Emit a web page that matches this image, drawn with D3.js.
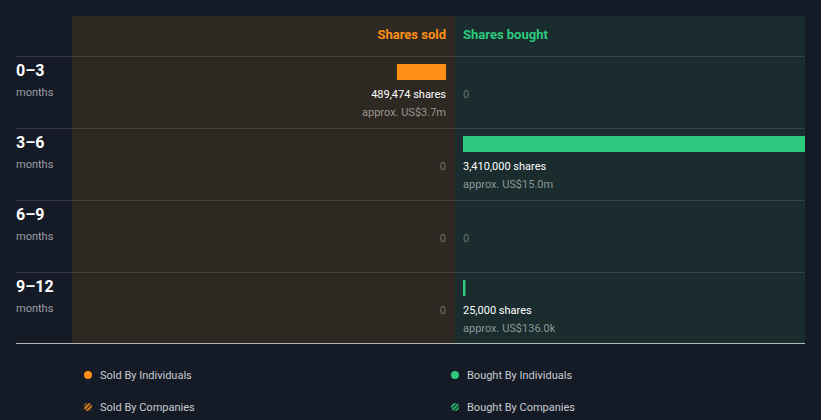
<!DOCTYPE html>
<html><head><meta charset="utf-8">
<script src="https://cdn.jsdelivr.net/npm/d3@7"></script>
<style>
html,body{margin:0;padding:0;background:#151b26;}
svg{display:block;font-family:Roboto,"Noto Sans",sans-serif;}
</style></head>
<body><svg id="c" width="821" height="420"></svg>
<script>
const periods = ["0–3", "3–6", "6–9", "9–12"];
const soldShares = [489474, 0, 0, 0];
const soldValues = ["US$3.7m", null, null, null];
const boughtShares = [0, 3410000, 0, 25000];
const boughtValues = [null, "US$15.0m", null, "US$136.0k"];
const legendItems = ["Sold By Individuals", "Bought By Individuals", "Sold By Companies", "Bought By Companies"];

(function(){
const ORANGE = "#ff9015", GREEN = "#2dc97e";
const svg = d3.select("#c");
const defs = svg.append("defs");
function hatch(id, col){
  const p = defs.append("pattern").attr("id", id).attr("patternUnits","userSpaceOnUse")
    .attr("width",3).attr("height",3).attr("patternTransform","rotate(45)");
  p.append("rect").attr("width",3).attr("height",3).attr("fill","#151b26");
  p.append("rect").attr("width",1.6).attr("height",3).attr("fill",col);
}
hatch("hO", ORANGE); hatch("hG", GREEN);

const pLeft = 72, pMid = 455, pRight = 805, pTop = 16, headerH = 40;
const y = d3.scaleBand().domain(periods).range([pTop + headerH, 344]);
const maxV = d3.max(boughtShares.concat(soldShares));
const w = d3.scaleLinear().domain([0, maxV]).range([0, pRight - (pMid + 8)]);

svg.append("rect").attr("x", pLeft).attr("y", pTop).attr("width", pMid - pLeft).attr("height", 344 - pTop).attr("fill", "#2d2822");
svg.append("rect").attr("x", pMid).attr("y", pTop).attr("width", pRight - pMid).attr("height", 344 - pTop).attr("fill", "#1a2c2e");

svg.append("text").attr("x", pMid - 9).attr("y", 39).attr("text-anchor","end")
  .attr("fill", ORANGE).attr("font-size", 13).attr("font-weight", "bold").text("Shares sold");
svg.append("text").attr("x", pMid + 8).attr("y", 39)
  .attr("fill", GREEN).attr("font-size", 13).attr("font-weight", "bold").text("Shares bought");

const fmt = d3.format(",");
periods.forEach((p, i) => {
  const t = y(p);
  svg.append("line").attr("x1", 16).attr("x2", pRight).attr("y1", t + 0.5).attr("y2", t + 0.5)
    .attr("stroke", "rgba(255,255,255,0.12)");
  svg.append("text").attr("x", 16).attr("y", t + 20).attr("fill", "#fff")
    .attr("font-size", 16).attr("font-weight", "bold").text(p);
  svg.append("text").attr("x", 16).attr("y", t + 40).attr("fill", "#9a9ea5")
    .attr("font-size", 11).text("months");
  if (soldShares[i] > 0) {
    const bw = w(soldShares[i]);
    svg.append("rect").attr("x", pMid - 9 - bw).attr("y", t + 8).attr("width", bw).attr("height", 16).attr("fill", ORANGE);
    svg.append("text").attr("x", pMid - 9).attr("y", t + 42).attr("text-anchor","end").attr("fill","#fff")
      .attr("font-size", 11).text(fmt(soldShares[i]) + " shares");
    svg.append("text").attr("x", pMid - 9).attr("y", t + 60).attr("text-anchor","end").attr("fill","#9a9690")
      .attr("font-size", 11).text("approx. " + soldValues[i]);
  } else {
    svg.append("text").attr("x", pMid - 9).attr("y", t + 42).attr("text-anchor","end").attr("fill","#77736e")
      .attr("font-size", 11).text("0");
  }
  if (boughtShares[i] > 0) {
    const bw = w(boughtShares[i]);
    svg.append("rect").attr("x", pMid + 8).attr("y", t + 8).attr("width", Math.max(bw, 2)).attr("height", 16).attr("fill", GREEN);
    svg.append("text").attr("x", pMid + 8).attr("y", t + 42).attr("fill","#fff")
      .attr("font-size", 11).text(fmt(boughtShares[i]) + " shares");
    svg.append("text").attr("x", pMid + 8).attr("y", t + 60).attr("fill","#8a9896")
      .attr("font-size", 11).text("approx. " + boughtValues[i]);
  } else {
    svg.append("text").attr("x", pMid + 8).attr("y", t + 42).attr("fill","#66726f")
      .attr("font-size", 11).text("0");
  }
});
svg.append("line").attr("x1", 16).attr("x2", pRight).attr("y1", 343.5).attr("y2", 343.5)
  .attr("stroke", "#b5b8bc");

const lx = [88, 455], ly = [375, 407];
legendItems.forEach((name, i) => {
  const cx = lx[i % 2], cy = ly[Math.floor(i / 2)];
  const col = i % 2 === 0 ? ORANGE : GREEN;
  const fill = i < 2 ? col : (i % 2 === 0 ? "url(#hO)" : "url(#hG)");
  svg.append("circle").attr("cx", cx).attr("cy", cy).attr("r", 4).attr("fill", fill);
  svg.append("text").attr("x", cx + 12).attr("y", cy + 4).attr("fill", "#c8cbd0")
    .attr("font-size", 11).text(name);
});
})();
</script></body></html>
